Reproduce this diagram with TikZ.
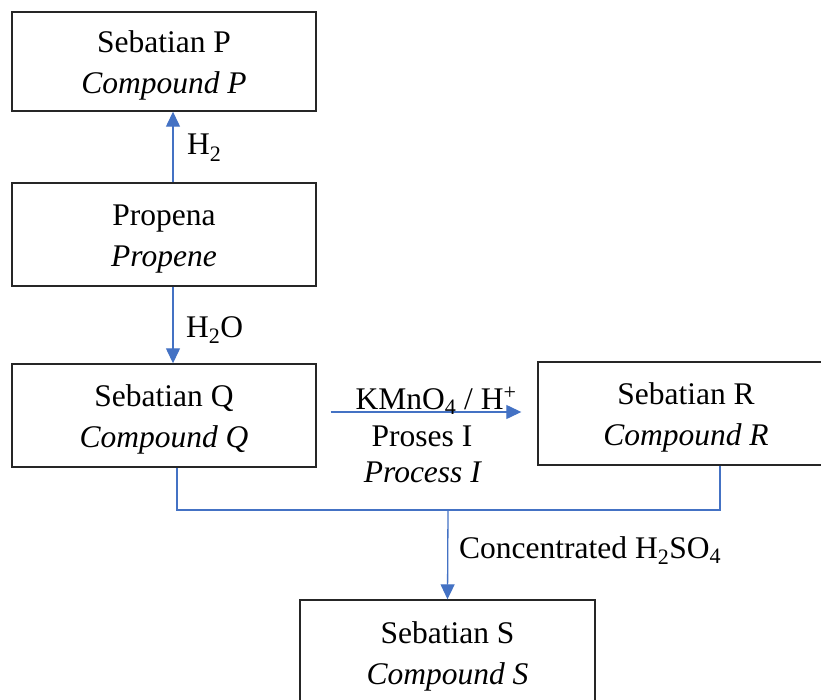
\documentclass[tikz,border=0pt]{standalone}
\usepackage{fontspec}
\setmainfont{Liberation Serif}
\usetikzlibrary{arrows.meta}
\definecolor{myblue}{HTML}{4472C4}
\newcommand{\topstrut}{\rule{0pt}{30.5pt}}
\begin{document}
\begin{tikzpicture}[x=1pt,y=-1pt,
  txt/.style={font=\fontsize{31.5}{41}\selectfont},
  box/.style={txt, draw=black!85, line width=1.4pt, align=center, inner sep=0pt},
  lbl/.style={txt, inner sep=0pt},
  conn/.style={draw=myblue, line width=1.3pt},
  arr/.style={conn, -{Triangle[length=15pt,width=14pt]}}]
\useasboundingbox (0,0) rectangle (821,700);
\clip (0,0) rectangle (821,700);
\node[box, minimum width=304pt, minimum height=99pt] (P) at (164,61.5) {\topstrut Sebatian P\\\textit{Compound P}};
\node[box, minimum width=304pt, minimum height=103pt] (prop) at (164,234.5) {\topstrut Propena\\\textit{Propene}};
\node[box, minimum width=304pt, minimum height=103pt] (Q) at (164,415.5) {\topstrut Sebatian Q\\\textit{Compound Q}};
\node[box, minimum width=296pt, minimum height=103pt] (R) at (686,413.5) {\topstrut Sebatian R\\\textit{Compound R}};
\node[box, minimum width=295pt, minimum height=104pt] (S) at (447.5,652) {\topstrut Sebatian S\\\textit{Compound S}};
\coordinate (jn) at (448,510);
\coordinate (qr) at ([xshift=14pt,yshift=3.5pt]Q.east);
\draw[arr] ([xshift=9pt]prop.north) -- ([xshift=9pt]P.south);
\draw[arr] ([xshift=9pt]prop.south) -- ([xshift=9pt]Q.north);
\draw[arr] (qr) -- ([xshift=-16pt]qr -| R.west);
\draw[conn] ([xshift=13pt]Q.south) |- (jn) -| ([xshift=34pt]R.south);
\draw[arr] (jn) -- (S.north);
\node[lbl, anchor=base west] (h2) at (187,155) {H\textsubscript{2}};
\node[lbl, anchor=base west] (h2o) at (186,337) {H\textsubscript{2}O};
\node[lbl, anchor=base] (kmn) at (436,409) {KMnO\textsubscript{4} / H\textsuperscript{+}};
\node[lbl, anchor=base] (pro) at (422,446) {Proses I};
\node[lbl, anchor=base] (proc) at (423,482) {\textit{Process I}};
\node[lbl, anchor=base west] (conc) at (459,558) {Concentrated H\textsubscript{2}SO\textsubscript{4}};
\end{tikzpicture}
\end{document}
